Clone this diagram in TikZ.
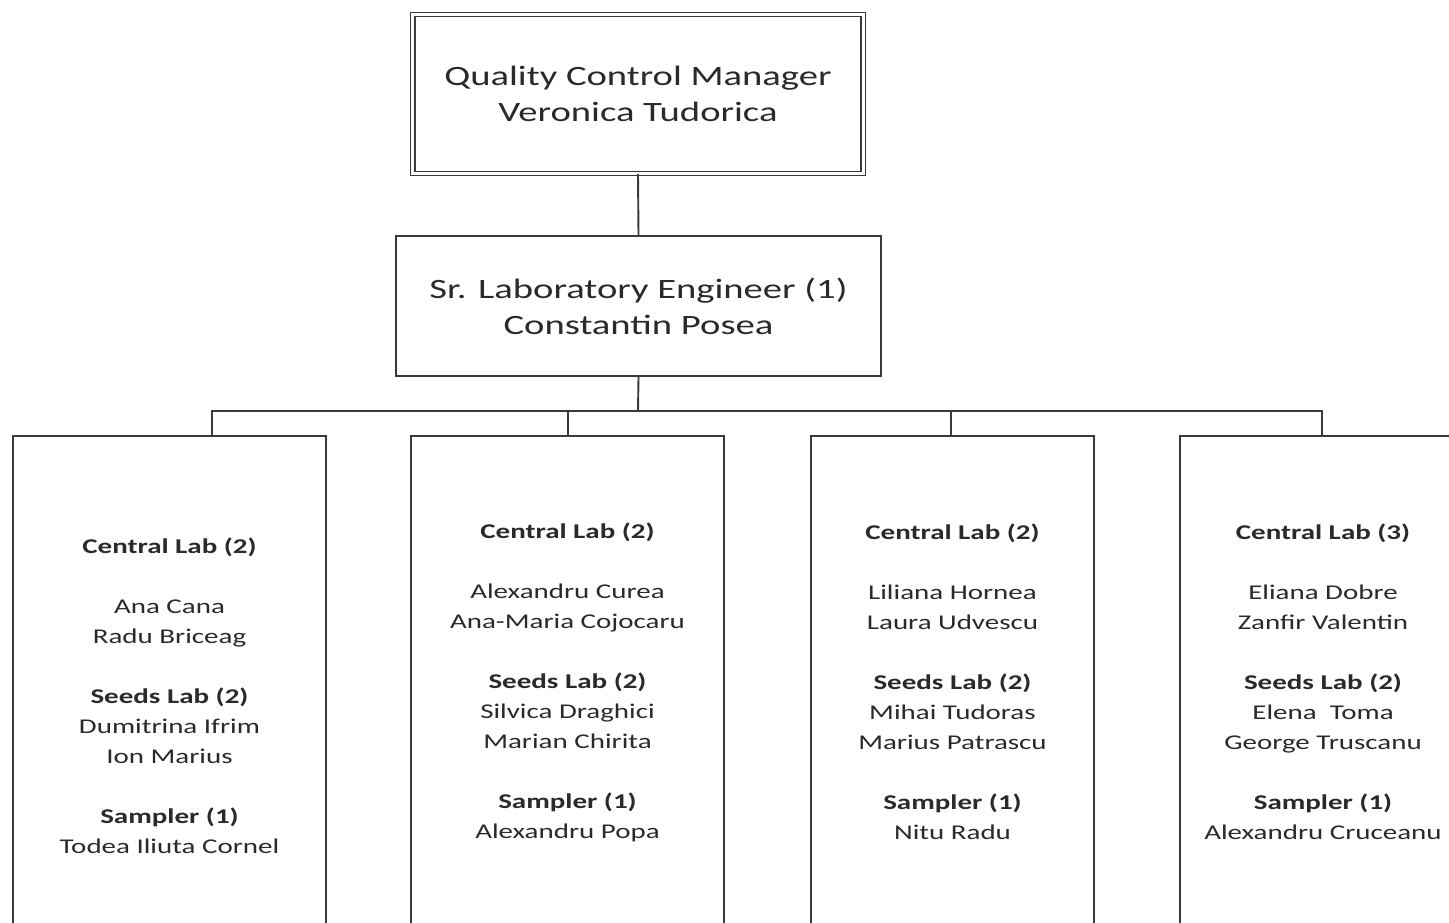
\documentclass[tikz,border=0pt]{standalone}
\usepackage{fontspec}
\setmainfont{Carlito}[FakeStretch=1.38]
\definecolor{ln}{HTML}{3A3A3A}
\definecolor{tx}{HTML}{2A2A2A}
\begin{document}
\begin{tikzpicture}[x=1pt,y=-1pt,
  every node/.style={text=tx},
  conn/.style={draw=ln,line width=1.9pt},
  topbox/.style={draw=ln,rectangle,line width=1.4pt,double,double distance=3pt,
     inner sep=0pt,minimum width=450.5pt,minimum height=159pt,align=center,
     font=\fontsize{28}{36}\selectfont},
  engbox/.style={draw=ln,rectangle,line width=1.9pt,inner sep=0pt,
     minimum width=485pt,minimum height=140pt,align=center,
     font=\fontsize{28}{36}\selectfont},
  labbox/.style={draw=ln,rectangle,line width=1.9pt,inner sep=0pt,align=center,
     font=\fontsize{21}{30}\selectfont}]
\useasboundingbox (0,0) rectangle (1449,922);
\clip (0,0) rectangle (1449,922);
\fill[white] (0,0) rectangle (1449,922);

\node[topbox] (qcm) at (638,94) {Quality Control Manager\\Veronica Tudorica};
\node[engbox] (eng) at (638.5,306) {Sr. Laboratory Engineer (1)\\Constantin Posea};

\node[labbox,minimum width=313pt,minimum height=520pt] (b1) at (169.5,696)
 {\textbf{Central Lab (2)}\\[30pt]Ana Cana\\Radu Briceag\\[30pt]\textbf{Seeds Lab (2)}\\Dumitrina Ifrim\\Ion Marius\\[30pt]\textbf{Sampler (1)}\\Todea Iliuta Cornel};
\node[labbox,minimum width=313pt,minimum height=492pt] (b2) at (567.5,682)
 {\textbf{Central Lab (2)}\\[30pt]Alexandru Curea\\Ana-Maria Cojocaru\\[30pt]\textbf{Seeds Lab (2)}\\Silvica Draghici\\Marian Chirita\\[30pt]\textbf{Sampler (1)}\\Alexandru Popa};
\node[labbox,minimum width=283pt,minimum height=492pt] (b3) at (952.5,682)
 {\textbf{Central Lab (2)}\\[30pt]Liliana Hornea\\Laura Udvescu\\[30pt]\textbf{Seeds Lab (2)}\\Mihai Tudoras\\Marius Patrascu\\[30pt]\textbf{Sampler (1)}\\Nitu Radu};
\node[labbox,minimum width=286pt,minimum height=492pt] (b4) at (1323,682)
 {\textbf{Central Lab (3)}\\[30pt]Eliana Dobre\\Zanfir Valentin\\[30pt]\textbf{Seeds Lab (2)}\\Elena\ \ Toma\\George Truscanu\\[30pt]\textbf{Sampler (1)}\\Alexandru Cruceanu};

\coordinate (bus) at (638,411);
\coordinate (d1) at (212,436);
\coordinate (d2) at (568,436);
\coordinate (d3) at (951,436);
\coordinate (d4) at (1322,436);

\draw[conn] (qcm.south) -- (eng.north);
\draw[conn] (eng.south) -- (bus);
\draw[conn] (d1) -- (d1 |- bus) -- (d4 |- bus) -- (d4);
\draw[conn] (d2) -- (d2 |- bus);
\draw[conn] (d3) -- (d3 |- bus);
\end{tikzpicture}
\end{document}
